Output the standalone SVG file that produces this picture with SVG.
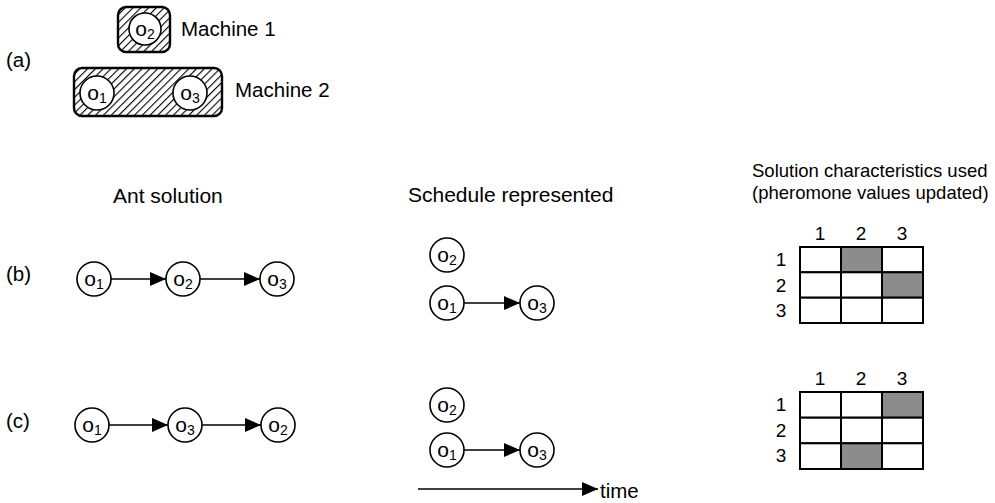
<svg xmlns="http://www.w3.org/2000/svg" width="995" height="503" viewBox="0 0 995 503">
<style>
text{font-family:"Liberation Sans",Arial,Helvetica,sans-serif;fill:#000}
.lbl{font-size:20.5px}
.title{font-size:21px}
.rt{font-size:18.5px}
.num{font-size:19px;text-anchor:middle}
.nd{fill:#fff;stroke:#000;stroke-width:1.6}
.ot{font-size:21px;text-anchor:middle}
.sub{font-size:14px}
.edge{stroke:#000;stroke-width:1.6;fill:none;marker-end:url(#ah)}
.mach{fill:url(#hatch);stroke:#000;stroke-width:2.4}
.cell{fill:#fff;stroke:#000;stroke-width:2}
.on{fill:#8c8c8c}
</style>
<defs>
<pattern id="hatch" width="5.5" height="5.5" patternUnits="userSpaceOnUse" patternTransform="rotate(45)">
<rect width="5.5" height="5.5" fill="#fff"/>
<line x1="0" y1="0" x2="0" y2="5.5" stroke="#000" stroke-width="2.2"/>
</pattern>
<marker id="ah" markerWidth="16" markerHeight="14" refX="16" refY="7" orient="auto" markerUnits="userSpaceOnUse">
<path d="M0,0 L16,7 L0,14 Z" fill="#000"/>
</marker>
</defs>

<g id="labels">
<text class="lbl" x="6" y="67">(a)</text>
<text class="lbl" x="6" y="281">(b)</text>
<text class="lbl" x="6" y="428">(c)</text>
<text class="title" x="113" y="203">Ant solution</text>
<text class="title" x="408" y="202">Schedule represented</text>
<text class="rt" x="752" y="177">Solution characteristics used</text>
<text class="rt" x="752" y="199">(pheromone values updated)</text>
</g>

<g id="machine1">
<rect class="mach" x="118" y="7" width="52" height="45" rx="8"/>
<circle class="nd" cx="145" cy="29" r="16"/>
<text class="ot" x="145" y="36">o<tspan class="sub" dy="2.5">2</tspan></text>
<text class="lbl" x="181" y="36">Machine 1</text>
</g>

<g id="machine2">
<rect class="mach" x="74" y="68" width="148" height="48" rx="8"/>
<circle class="nd" cx="97" cy="93" r="17"/>
<text class="ot" x="97" y="100">o<tspan class="sub" dy="2.5">1</tspan></text>
<circle class="nd" cx="190" cy="93" r="17"/>
<text class="ot" x="190" y="100">o<tspan class="sub" dy="2.5">3</tspan></text>
<text class="lbl" x="235" y="97">Machine 2</text>
</g>

<g id="connectors">
<line class="edge" x1="111" y1="279" x2="166" y2="279"/>
<line class="edge" x1="200" y1="279" x2="260" y2="279"/>
<line class="edge" x1="464" y1="303" x2="520" y2="303"/>
<line class="edge" x1="109" y1="425" x2="168" y2="425"/>
<line class="edge" x1="202" y1="425" x2="261" y2="425"/>
<line class="edge" x1="464" y1="450" x2="520" y2="450"/>
<line class="edge" x1="418" y1="489" x2="598" y2="489"/>
</g>

<g id="ant-b">
<g id="b-o1"><circle class="nd" cx="94" cy="279" r="17"/><text class="ot" x="94" y="286">o<tspan class="sub" dy="2.5">1</tspan></text></g>
<g id="b-o2"><circle class="nd" cx="183" cy="279" r="17"/><text class="ot" x="183" y="286">o<tspan class="sub" dy="2.5">2</tspan></text></g>
<g id="b-o3"><circle class="nd" cx="277" cy="279" r="17"/><text class="ot" x="277" y="286">o<tspan class="sub" dy="2.5">3</tspan></text></g>
</g>

<g id="sched-b">
<g id="sb-o2"><circle class="nd" cx="447" cy="255" r="17"/><text class="ot" x="447" y="262">o<tspan class="sub" dy="2.5">2</tspan></text></g>
<g id="sb-o1"><circle class="nd" cx="447" cy="303" r="17"/><text class="ot" x="447" y="310">o<tspan class="sub" dy="2.5">1</tspan></text></g>
<g id="sb-o3"><circle class="nd" cx="537" cy="303" r="17"/><text class="ot" x="537" y="310">o<tspan class="sub" dy="2.5">3</tspan></text></g>
</g>

<g id="ant-c">
<g id="c-o1"><circle class="nd" cx="92" cy="425" r="17"/><text class="ot" x="92" y="432">o<tspan class="sub" dy="2.5">1</tspan></text></g>
<g id="c-o3"><circle class="nd" cx="185" cy="425" r="17"/><text class="ot" x="185" y="432">o<tspan class="sub" dy="2.5">3</tspan></text></g>
<g id="c-o2"><circle class="nd" cx="278" cy="425" r="17"/><text class="ot" x="278" y="432">o<tspan class="sub" dy="2.5">2</tspan></text></g>
</g>

<g id="sched-c">
<g id="sc-o2"><circle class="nd" cx="447" cy="405" r="17"/><text class="ot" x="447" y="412">o<tspan class="sub" dy="2.5">2</tspan></text></g>
<g id="sc-o1"><circle class="nd" cx="447" cy="450" r="17"/><text class="ot" x="447" y="457">o<tspan class="sub" dy="2.5">1</tspan></text></g>
<g id="sc-o3"><circle class="nd" cx="537" cy="450" r="17"/><text class="ot" x="537" y="457">o<tspan class="sub" dy="2.5">3</tspan></text></g>
<text class="lbl" x="600" y="498">time</text>
</g>

<g id="matrix-b">
<text class="num" x="820" y="240">1</text>
<text class="num" x="861" y="240">2</text>
<text class="num" x="902" y="240">3</text>
<text class="num" x="781" y="266">1</text>
<text class="num" x="781" y="292">2</text>
<text class="num" x="781" y="317">3</text>
<rect class="cell" x="800" y="247" width="41" height="25.3"/>
<rect class="cell on" x="841" y="247" width="41" height="25.3"/>
<rect class="cell" x="882" y="247" width="41" height="25.3"/>
<rect class="cell" x="800" y="272.3" width="41" height="25.4"/>
<rect class="cell" x="841" y="272.3" width="41" height="25.4"/>
<rect class="cell on" x="882" y="272.3" width="41" height="25.4"/>
<rect class="cell" x="800" y="297.7" width="41" height="25.3"/>
<rect class="cell" x="841" y="297.7" width="41" height="25.3"/>
<rect class="cell" x="882" y="297.7" width="41" height="25.3"/>
</g>

<g id="matrix-c">
<text class="num" x="820" y="385">1</text>
<text class="num" x="861" y="385">2</text>
<text class="num" x="902" y="385">3</text>
<text class="num" x="781" y="411">1</text>
<text class="num" x="781" y="437">2</text>
<text class="num" x="781" y="462">3</text>
<rect class="cell" x="800" y="392" width="41" height="25.7"/>
<rect class="cell" x="841" y="392" width="41" height="25.7"/>
<rect class="cell on" x="882" y="392" width="41" height="25.7"/>
<rect class="cell" x="800" y="417.7" width="41" height="25.6"/>
<rect class="cell" x="841" y="417.7" width="41" height="25.6"/>
<rect class="cell" x="882" y="417.7" width="41" height="25.6"/>
<rect class="cell" x="800" y="443.3" width="41" height="25.7"/>
<rect class="cell on" x="841" y="443.3" width="41" height="25.7"/>
<rect class="cell" x="882" y="443.3" width="41" height="25.7"/>
</g>
</svg>
